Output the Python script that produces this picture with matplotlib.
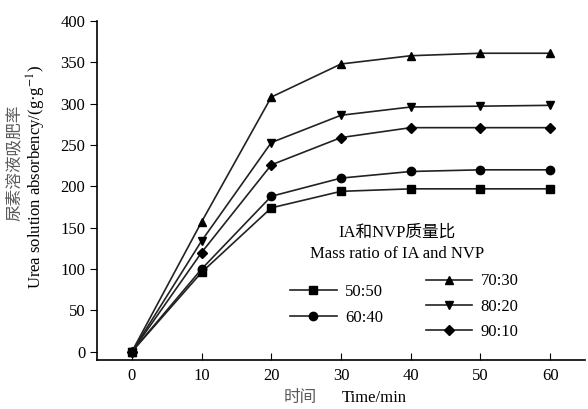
import matplotlib
matplotlib.use("Agg")
import matplotlib.pyplot as plt

plt.rcParams['font.family'] = ['Liberation Serif', 'Noto Sans CJK SC']
plt.rcParams['mathtext.fontset'] = 'stix'

time = [0, 10, 20, 30, 40, 50, 60]
labels = ["50:50", "60:40", "70:30", "80:20", "90:10"]
markers = ["s", "o", "^", "v", "D"]
s5050 = [0, 96, 174, 194, 197, 197, 197]
s6040 = [0, 100, 188, 210, 218, 220, 220]
s7030 = [0, 157, 308, 348, 358, 361, 361]
s8020 = [0, 134, 253, 286, 296, 297, 298]
s9010 = [0, 120, 226, 259, 271, 271, 271]
series = [s5050, s6040, s7030, s8020, s9010]

W, H = 588, 409
fig = plt.figure(figsize=(W / 100, H / 100), dpi=100)
ax = fig.add_axes([97 / W, 1 - 360 / H, 488 / W, 339 / H])

handles = []
for y, lab, m in zip(series, labels, markers):
    ms = 5 if m == "D" else 6
    h, = ax.plot(time, y, color="#222222", lw=1.2, marker=m, ms=ms,
                 markerfacecolor="black", markeredgecolor="black", label=lab)
    handles.append(h)

ax.set_xlim(-5, 65)
ax.set_ylim(-10, 400)
ax.set_xticks(time)
ax.set_yticks(range(0, 401, 50))
ax.spines['top'].set_visible(False)
ax.spines['right'].set_visible(False)
ax.spines['left'].set_linewidth(1.2)
ax.spines['bottom'].set_linewidth(1.2)
ax.tick_params(axis='x', direction='in', length=5, labelsize=12, pad=6)
ax.tick_params(axis='y', direction='out', length=5, labelsize=12)

grey = "#5a5a5a"
# x label
fig.text(300 / W, 1 - 398 / H, "时间", color=grey, fontsize=12, ha='center', va='center')
fig.text(374 / W, 1 - 398 / H, "Time/min", color="black", fontsize=12, ha='center', va='center')
# y label
fig.text(15 / W, 1 - 163 / H, "尿素溶液吸肥率", color=grey, fontsize=12, rotation=90,
         ha='center', va='center')
fig.text(36 / W, 1 - 177 / H, "Urea solution absorbency/(g·g$^{-1}$)", color="black",
         fontsize=12, rotation=90, ha='center', va='center')

# legend title
ax.text(0.615, 0.344, "IA和NVP质量比\nMass ratio of IA and NVP", transform=ax.transAxes,
        ha='center', va='center', fontsize=12, linespacing=1.5)

leg1 = ax.legend(handles=handles[:2], loc='upper left', bbox_to_anchor=(0.382, 0.245),
                 frameon=False, fontsize=12, handlelength=2.8, labelspacing=0.6,
                 borderaxespad=0, handletextpad=0.5)
ax.add_artist(leg1)
leg2 = ax.legend(handles=handles[2:], loc='upper left', bbox_to_anchor=(0.66, 0.275),
                 frameon=False, fontsize=12, handlelength=2.8, labelspacing=0.55,
                 borderaxespad=0, handletextpad=0.5)

fig.savefig("out.png", dpi=100)
